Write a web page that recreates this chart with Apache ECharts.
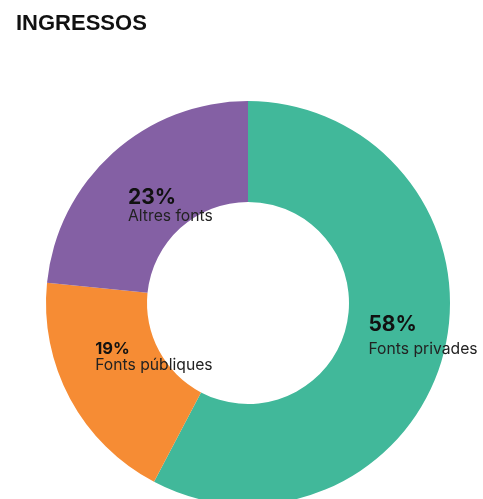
<!DOCTYPE html>
<html>
<head>
<meta charset="utf-8">
<script src="https://cdn.jsdelivr.net/npm/echarts@6/dist/echarts.min.js"></script>
<style>
html,body{margin:0;padding:0;background:#fff;}
#c{width:483px;height:499px;}
</style>
</head>
<body>
<div id="c"></div>
<script>
const titleText = 'INGRESSOS';
const categories = ['Fonts privades', 'Fonts públiques', 'Altres fonts'];
// shares (labels show them rounded)
const values = [57.7, 18.9, 23.4];
const colors = ['#41B89A', '#F68C34', '#8460A4'];
// label styling per slice (offset from inside anchor, font sizes, line heights)
const labelTweaks = [
  { offset: [25, -1], pSize: 21, pLH: 20, nSize: 15.7, nLH: 27.7 },
  { offset: [42, -21], pSize: 16.5, pLH: 20, nSize: 15.7, nLH: 12.3 },
  { offset: [26, 18], pSize: 21, pLH: 20, nSize: 15.7, nLH: 16.5 }
];

const chart = echarts.init(document.getElementById('c'), null, { renderer: 'canvas' });
const FONT = 'Inter';
const data = categories.map((name, i) => {
  const t = labelTweaks[i];
  return {
    name: name,
    value: values[i],
    itemStyle: { color: colors[i] },
    label: {
      offset: t.offset,
      rich: {
        p: { fontFamily: FONT, fontSize: t.pSize, fontWeight: 'bold', color: '#111', lineHeight: t.pLH, align: 'left' },
        n: { fontFamily: FONT, fontSize: t.nSize, color: '#222', lineHeight: t.nLH, align: 'left' }
      }
    }
  };
});

chart.setOption({
  animation: false,
  title: {
    text: titleText,
    left: 16,
    top: 13,
    padding: 0,
    textStyle: { fontFamily: 'Liberation Sans', fontSize: 22, fontWeight: 'bold', color: '#111' }
  },
  series: [{
    type: 'pie',
    center: [248, 303],
    radius: [101, 202],
    startAngle: 90,
    clockwise: true,
    avoidLabelOverlap: false,
    silent: true,
    label: {
      show: true,
      position: 'inside',
      formatter: p => '{p|' + Math.round(p.value) + '%}\n{n|' + p.name + '}'
    },
    labelLine: { show: false },
    data: data
  }]
});
</script>
</body>
</html>
